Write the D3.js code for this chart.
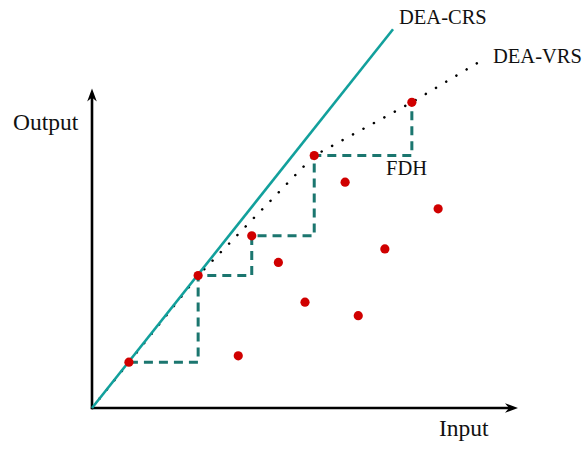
<!DOCTYPE html>
<html>
<head>
<meta charset="utf-8">
<script src="https://cdn.jsdelivr.net/npm/d3@7"></script>
<style>
  html, body { margin: 0; padding: 0; background: #fff; }
  svg { display: block; }
  text { font-family: "Liberation Serif", "Times New Roman", serif; fill: #111; }
</style>
</head>
<body>
<svg id="chart" width="584" height="450"></svg>
<script>
// Decision-making units (input, output)
const unitInputs  = [1.04, 2.99, 4.50, 6.26, 9.01, 4.12, 5.25, 6.00, 7.13, 7.50, 8.25, 9.75];
const unitOutputs = [1.29, 3.73, 4.85, 7.11, 8.61, 1.47, 4.10, 2.98, 6.36, 2.60, 4.48, 5.61];

// Efficient units forming the free-disposal hull staircase (indices into the arrays above)
const fdhIndex = [0, 1, 2, 3, 4];

// Convex VRS frontier: origin, units 0,1,3,4, then a continuation past the last unit
const vrsInputs  = [0, 1.04, 2.99, 6.26, 9.01, 11.04];
const vrsOutputs = [0, 1.29, 3.73, 7.11, 8.61, 9.83];

// Constant-returns ray from the origin
const crsInputs  = [0, 8.48];
const crsOutputs = [0, 10.67];

const frontierLabels = ["DEA-CRS", "DEA-VRS", "FDH"];
const axisLabels = ["Input", "Output"];

const svg = d3.select("#chart");

const x = d3.scaleLinear().domain([0, 12]).range([92, 518]);
const y = d3.scaleLinear().domain([0, 9]).range([408, 88.5]);

const lineGen = d3.line().x(d => x(d[0])).y(d => y(d[1]));

// Axes with arrowheads
const x0 = x(0), y0 = y(0), xEnd = x.range()[1], yEnd = y.range()[1];
svg.append("line")
  .attr("x1", x0).attr("y1", y0).attr("x2", xEnd - 6).attr("y2", y0)
  .attr("stroke", "#000").attr("stroke-width", 2.6);
svg.append("line")
  .attr("x1", x0).attr("y1", y0 + 1.3).attr("x2", x0).attr("y2", yEnd + 6)
  .attr("stroke", "#000").attr("stroke-width", 2.6);
svg.append("path")
  .attr("d", `M${xEnd},${y0} L${xEnd - 13},${y0 - 4.8} L${xEnd - 9},${y0} L${xEnd - 13},${y0 + 4.8} Z`)
  .attr("fill", "#000");
svg.append("path")
  .attr("d", `M${x0},${yEnd} L${x0 - 4.8},${yEnd + 13} L${x0},${yEnd + 9} L${x0 + 4.8},${yEnd + 13} Z`)
  .attr("fill", "#000");

// VRS frontier (dotted)
svg.append("path")
  .datum(d3.zip(vrsInputs, vrsOutputs))
  .attr("d", lineGen)
  .attr("fill", "none")
  .attr("stroke", "#000")
  .attr("stroke-width", 2.5)
  .attr("stroke-linecap", "round")
  .attr("stroke-dasharray", "0.1,11.8");

// FDH staircase (dashed)
svg.append("path")
  .datum(fdhIndex.map(i => [unitInputs[i], unitOutputs[i]]))
  .attr("d", lineGen.curve(d3.curveStepAfter))
  .attr("fill", "none")
  .attr("stroke", "#1b766f")
  .attr("stroke-width", 3)
  .attr("stroke-dasharray", "9,6");
lineGen.curve(d3.curveLinear);

// CRS ray (solid)
svg.append("path")
  .datum(d3.zip(crsInputs, crsOutputs))
  .attr("d", lineGen)
  .attr("fill", "none")
  .attr("stroke", "#12a09c")
  .attr("stroke-width", 2.6);

// Units
svg.append("g")
  .selectAll("circle")
  .data(d3.zip(unitInputs, unitOutputs))
  .join("circle")
  .attr("cx", d => x(d[0]))
  .attr("cy", d => y(d[1]))
  .attr("r", 4.6)
  .attr("fill", "#d00000");

// Frontier labels
svg.append("text").attr("x", 399).attr("y", 24).attr("font-size", 20.5).text(frontierLabels[0]);
svg.append("text").attr("x", 493).attr("y", 62.5).attr("font-size", 20.5).text(frontierLabels[1]);
svg.append("text").attr("x", 386).attr("y", 175).attr("font-size", 20.5).text(frontierLabels[2]);

// Axis titles
svg.append("text").attr("x", 439).attr("y", 436).attr("font-size", 23.5).text(axisLabels[0]);
svg.append("text").attr("x", 13).attr("y", 130).attr("font-size", 23.5).text(axisLabels[1]);
</script>
</body>
</html>
